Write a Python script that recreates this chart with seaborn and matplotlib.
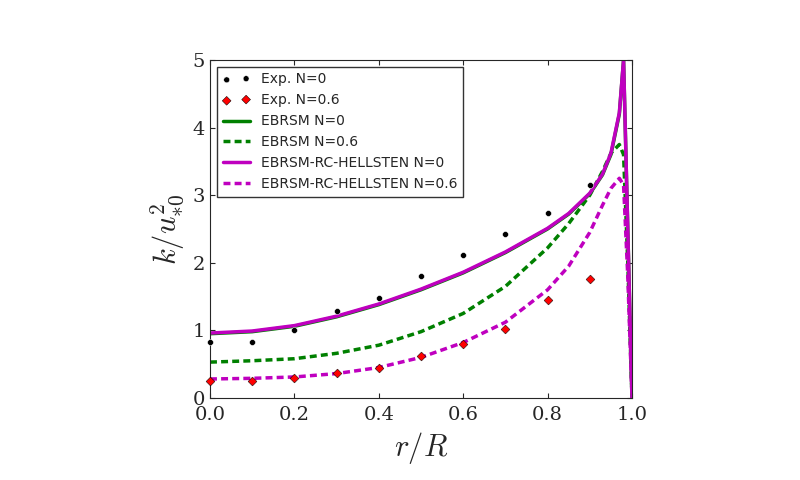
import matplotlib
matplotlib.use("Agg")
import matplotlib.pyplot as plt
import seaborn as sns

sns.set_style("ticks")
plt.rcParams['font.family'] = ['DejaVu Sans']
plt.rcParams['mathtext.fontset'] = 'cm'

exp_r = [0.0,0.1,0.2,0.3,0.4,0.5,0.6,0.7,0.8,0.9]
exp_n0 = [0.83,0.83,1.0,1.28,1.48,1.8,2.12,2.42,2.73,3.15]
exp_n06 = [0.25,0.25,0.3,0.37,0.45,0.62,0.8,1.02,1.45,1.76]

cr = [0.0,0.1,0.2,0.3,0.4,0.5,0.6,0.7,0.8,0.85,0.9,0.93,0.95,0.97,0.98,0.99,1.0]
ebrsm_n0 = [0.95,0.98,1.06,1.2,1.38,1.6,1.85,2.15,2.5,2.72,3.02,3.3,3.6,4.2,5.0,2.5,0.0]
hell_n0 = [0.96,0.99,1.07,1.21,1.39,1.61,1.86,2.16,2.51,2.73,3.03,3.31,3.62,4.22,5.0,2.5,0.0]
cr2 = [0.0,0.1,0.2,0.3,0.4,0.5,0.6,0.7,0.8,0.85,0.9,0.93,0.95,0.97,0.98,0.99,1.0]
ebrsm_n06 = [0.53,0.55,0.58,0.66,0.78,0.98,1.25,1.65,2.22,2.58,3.0,3.35,3.62,3.75,3.6,2.0,0.0]
hell_n06 = [0.28,0.29,0.31,0.36,0.45,0.6,0.82,1.12,1.6,1.95,2.45,2.85,3.1,3.25,3.15,1.8,0.0]

fig = plt.figure(figsize=(8,4.8), dpi=100)
ax = fig.add_axes([0.2625,0.171,0.5275,0.704])
sns.scatterplot(x=exp_r, y=exp_n0, ax=ax, color='black', marker='o', s=18, label='Exp. N=0', zorder=3, clip_on=False)
sns.scatterplot(x=exp_r, y=exp_n06, ax=ax, color='red', marker='D', s=20, edgecolor='black', label='Exp. N=0.6', zorder=3, clip_on=False)
sns.lineplot(x=cr, y=ebrsm_n0, ax=ax, color='green', lw=2.5, label='EBRSM N=0')
sns.lineplot(x=cr2, y=ebrsm_n06, ax=ax, color='green', lw=2.5, dashes=(2,1.2), label='EBRSM N=0.6')
sns.lineplot(x=cr, y=hell_n0, ax=ax, color='m', lw=2.5, label='EBRSM-RC-HELLSTEN N=0')
sns.lineplot(x=cr2, y=hell_n06, ax=ax, color='m', lw=2.5, dashes=(2,1.2), label='EBRSM-RC-HELLSTEN N=0.6')
ax.set_xlim(0,1); ax.set_ylim(0,5)
ax.set_xticks([0,0.2,0.4,0.6,0.8,1.0])
ax.set_xticklabels(['0.0','0.2','0.4','0.6','0.8','1.0'], fontfamily='DejaVu Serif', fontsize=14)
ax.set_yticks([0,1,2,3,4,5])
ax.set_yticklabels(['0','1','2','3','4','5'], fontfamily='DejaVu Serif', fontsize=14)
ax.set_xlabel(r'$r/R$', fontsize=22)
ax.set_ylabel(r'$k/u_{*0}^2$', fontsize=22)
ax.tick_params(direction='in', top=True, right=True)
ax.tick_params(axis='x', pad=6)
ax.legend(loc='upper left', fontsize=10, frameon=True, fancybox=False, edgecolor='black', scatterpoints=2)
fig.savefig('out.png')
